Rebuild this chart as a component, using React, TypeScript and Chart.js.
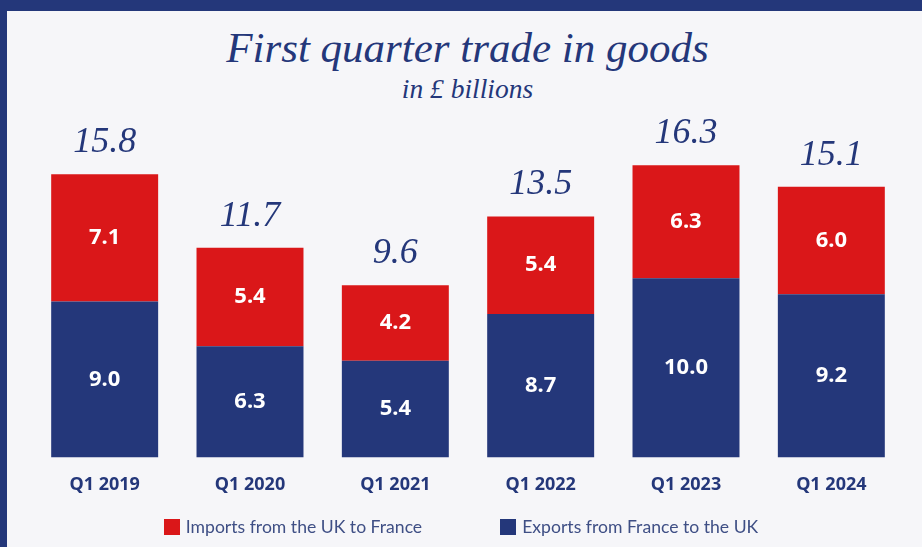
import React, { useEffect, useRef } from "react";
import { Chart, registerables } from "chart.js";

Chart.register(...registerables);

// ---- data ----
const categories = ["Q1 2019", "Q1 2020", "Q1 2021", "Q1 2022", "Q1 2023", "Q1 2024"];
// segment heights as drawn in the picture (£ billions)
const exportsValues = [8.7, 6.2, 5.4, 8.0, 10.0, 9.1];
const importsValues = [7.1, 5.5, 4.2, 5.45, 6.3, 6.0];
// printed labels
const exportsLabels = [9.0, 6.3, 5.4, 8.7, 10.0, 9.2];
const importsLabels = [7.1, 5.4, 4.2, 5.4, 6.3, 6.0];
const totalLabels = [15.8, 11.7, 9.6, 13.5, 16.3, 15.1];

const seriesNames = ["Exports from France to the UK", "Imports from the UK to France"];
const NAVY = "#24377a";
const RED = "#da1719";
const BG = "#f6f6f9";
const SERIF = "'Liberation Serif', 'DejaVu Serif', serif";
const SANS = "'Noto Sans', 'Open Sans', sans-serif";

const labelPlugin = {
  id: "barLabels",
  afterDatasetsDraw(chart: any) {
    const ctx = chart.ctx;
    ctx.save();
    ctx.textAlign = "center";
    ctx.textBaseline = "middle";
    ctx.fillStyle = "#ffffff";
    ctx.font = `bold 22px ${SANS}`;
    [exportsLabels, importsLabels].forEach((labels, di) => {
      chart.getDatasetMeta(di).data.forEach((bar: any, i: number) => {
        const p = bar.getProps(["x", "y", "base"], true);
        ctx.fillText(labels[i].toFixed(1), p.x, (p.y + p.base) / 2);
      });
    });
    ctx.textBaseline = "alphabetic";
    ctx.fillStyle = NAVY;
    ctx.font = `italic 36px ${SERIF}`;
    chart.getDatasetMeta(1).data.forEach((bar: any, i: number) => {
      const p = bar.getProps(["x", "y"], true);
      ctx.fillText(totalLabels[i].toFixed(1), p.x, p.y - 22);
    });
    ctx.restore();
  },
};

export default function App() {
  const ref = useRef<HTMLCanvasElement>(null);

  useEffect(() => {
    if (!ref.current) return;
    const chart = new Chart(ref.current, {
      type: "bar",
      data: {
        labels: categories,
        datasets: [
          { label: seriesNames[0], data: exportsValues, backgroundColor: NAVY, borderWidth: 0 },
          { label: seriesNames[1], data: importsValues, backgroundColor: RED, borderWidth: 0 },
        ],
      },
      options: {
        responsive: false,
        animation: false,
        devicePixelRatio: 1,
        layout: { padding: { left: 32, right: 18, top: 99, bottom: 34 } },
        datasets: { bar: { categoryPercentage: 1, barPercentage: 0.736 } },
        plugins: { legend: { display: false }, tooltip: { enabled: false }, title: { display: false } },
        scales: {
          x: {
            stacked: true,
            grid: { display: false, drawTicks: false },
            border: { display: false },
            ticks: { color: NAVY, font: { family: SANS, size: 18, weight: "bold" }, padding: 17 },
          },
          y: {
            stacked: true,
            display: false,
            min: 0,
            max: 20,
          },
        },
      },
      plugins: [labelPlugin],
    });
    return () => chart.destroy();
  }, []);

  const legendItems = [
    { name: seriesNames[1], color: RED },
    { name: seriesNames[0], color: NAVY },
  ];

  return (
    <div style={{ position: "absolute", left: 0, top: 0, width: 922, height: 547, background: BG, overflow: "hidden" }}>
      <div style={{ position: "absolute", left: 0, top: 0, width: 922, height: 11, background: NAVY }} />
      <div style={{ position: "absolute", left: 0, top: 0, width: 7, height: 547, background: NAVY }} />
      <div
        style={{
          position: "absolute", left: 13, width: 909, top: 26, textAlign: "center",
          fontFamily: SERIF, fontStyle: "italic", fontSize: 43, lineHeight: "43px", color: NAVY,
        }}
      >
        First quarter trade in goods
      </div>
      <div
        style={{
          position: "absolute", left: 13, width: 909, top: 75, textAlign: "center",
          fontFamily: SERIF, fontStyle: "italic", fontSize: 27.5, lineHeight: "27.5px", color: NAVY,
        }}
      >
        in £ billions
      </div>
      <canvas ref={ref} width={922} height={547} style={{ position: "absolute", left: 0, top: 0 }} />
      <div
        style={{
          position: "absolute", left: 0, width: 922, top: 516, display: "flex", justifyContent: "center",
          gap: 78, fontFamily: "Lato, 'Noto Sans', sans-serif", fontSize: 17.6, lineHeight: "22px", color: "#3f4f85",
        }}
      >
        {legendItems.map((it) => (
          <div key={it.name} style={{ display: "flex", alignItems: "center" }}>
            <span style={{ display: "inline-block", width: 16, height: 16, background: it.color, marginRight: 6 }} />
            <span>{it.name}</span>
          </div>
        ))}
      </div>
    </div>
  );
}
